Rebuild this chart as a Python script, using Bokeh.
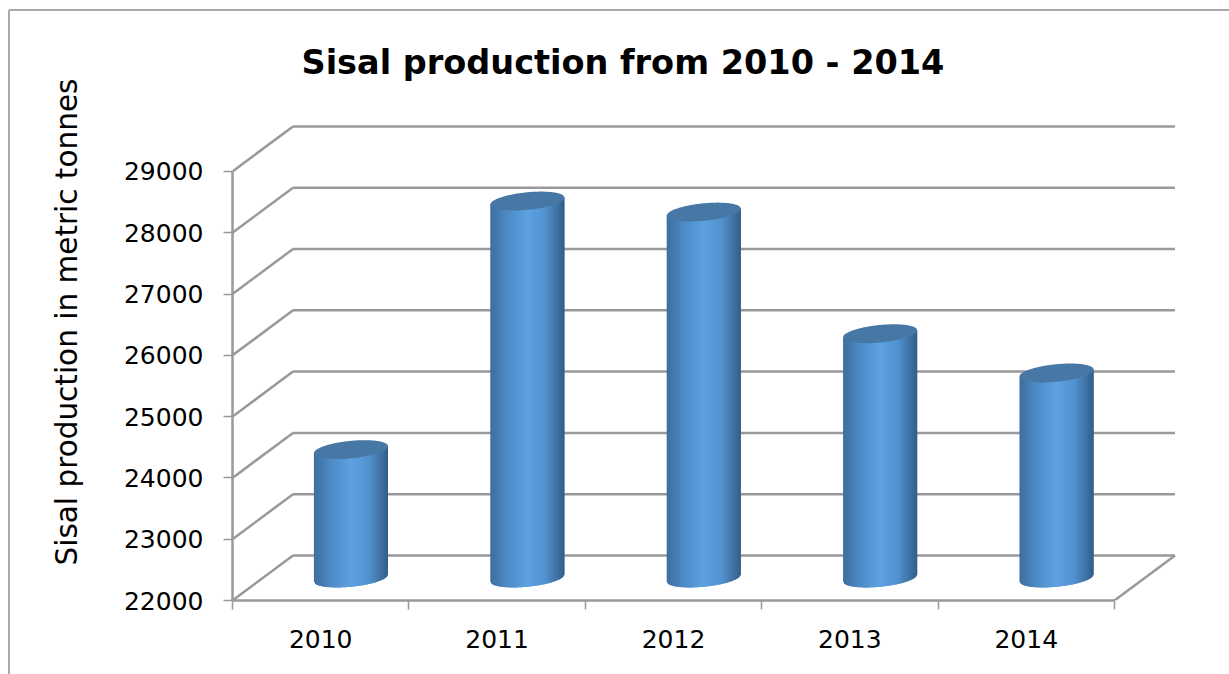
import math

from bokeh.embed import file_html
from bokeh.models import ColumnDataSource, FixedTicker, Title
from bokeh.plotting import figure
from bokeh.resources import INLINE

# Chart content
TITLE = "Sisal production from 2010 - 2014"
Y_TITLE = "Sisal production in metric tonnes"
years = ["2010", "2011", "2012", "2013", "2014"]
production = [24095, 28150, 27970, 25985, 25345]
y_ticks = [22000, 23000, 24000, 25000, 26000, 27000, 28000, 29000]

# Oblique projection of the 3-D box, in data units per depth
DEPTH_X = 0.343
DEPTH_Y = 734
# Cylinder cross-section, in data units
RADIUS_X = 0.21
CAP_MINOR = 143
CAP_TILT = 57

GRID = "#999999"
FRAME = "#a8a8a8"
FONT = "DejaVu Sans"
SHADE_STOPS = [
    (0.00, (62, 110, 158)),
    (0.22, (78, 138, 196)),
    (0.50, (94, 162, 226)),
    (0.74, (82, 146, 208)),
    (0.90, (64, 114, 164)),
    (1.00, (50, 94, 138)),
]
CAP_COLOR = "#4777a5"


def shade(t):
    """Colour across the cylinder's width, t from 0 (left) to 1 (right)."""
    for (t0, c0), (t1, c1) in zip(SHADE_STOPS, SHADE_STOPS[1:]):
        if t <= t1:
            f = (t - t0) / (t1 - t0)
            r, g, b = (round(a + (z - a) * f) for a, z in zip(c0, c1))
            return f"#{r:02x}{g:02x}{b:02x}"
    return "#325e8a"


def rim(u, sign):
    """Offset from an ellipse centre at u in [-1, 1]; sign picks upper or lower arc."""
    return CAP_TILT * u + sign * CAP_MINOR * math.sqrt(max(0.0, 1 - u * u))


x_end = 5 + DEPTH_X + 0.02
y_end = y_ticks[-1] + DEPTH_Y + 64

p = figure(
    width=1229, height=674,
    x_range=(0, x_end), y_range=(y_ticks[0], y_end),
    min_border_left=232, min_border_right=51,
    min_border_top=122, min_border_bottom=74,
    output_backend="svg", toolbar_location=None,
    outline_line_color=None, background_fill_color="white",
    border_fill_alpha=0,
)
p.grid.visible = False

# Thin frame along the page's top and left, running off the other two edges
p.styles = {
    "background-color": "white",
    "background-image": f"linear-gradient({FRAME},{FRAME}),linear-gradient({FRAME},{FRAME})",
    "background-size": "1220px 2px, 2px 664px",
    "background-position": "9px 9px, 8px 10px",
    "background-repeat": "no-repeat",
}

# Title
p.title.text = TITLE
p.title.text_font = FONT
p.title.text_font_size = "33.5px"
p.title.text_font_style = "bold"
p.title.text_color = "black"
p.title.align = "left"
p.title.offset = 69
p.title.standoff = 81

# Value axis
ya = p.yaxis[0]
ya.ticker = FixedTicker(ticks=y_ticks)
ya.bounds = (y_ticks[0], y_ticks[-1])
ya.major_label_overrides = {v: str(v) for v in y_ticks}
ya.major_label_text_font = FONT
ya.major_label_text_font_size = "25px"
ya.major_label_text_color = "black"
ya.major_label_standoff = 20
ya.major_tick_in = 0
ya.major_tick_out = 9
ya.minor_tick_in = 0
ya.minor_tick_out = 0
ya.axis_line_color = GRID
ya.axis_line_width = 2.5
ya.major_tick_line_color = GRID
ya.major_tick_line_width = 1.5

# Rotated value-axis title, sitting left of the tick labels
p.add_layout(Title(
    text=Y_TITLE, align="left", offset=35, standoff=74,
    text_font=FONT, text_font_size="29.5px", text_font_style="normal", text_color="black",
), "left")

# Year axis: labels sit between the tick marks
xa = p.xaxis[0]
centres = [i + 0.5 for i in range(len(years))]
xa.ticker = FixedTicker(ticks=centres, minor_ticks=list(range(len(years) + 1)))
xa.bounds = (0, len(years))
xa.major_label_overrides = dict(zip(centres, years))
xa.major_label_text_font = FONT
xa.major_label_text_font_size = "25px"
xa.major_label_text_color = "black"
xa.major_label_standoff = 20
xa.major_tick_in = 0
xa.major_tick_out = 0
xa.minor_tick_in = 0
xa.minor_tick_out = 9
xa.minor_tick_line_color = GRID
xa.minor_tick_line_width = 1.5
xa.axis_line_color = GRID
xa.axis_line_width = 2.5

# Back wall and side wall grid lines, plus the floor's right edge
x0s, y0s, x1s, y1s = [], [], [], []
for v in y_ticks:
    x0s += [0, DEPTH_X]
    y0s += [v, v + DEPTH_Y]
    x1s += [DEPTH_X, 5 + DEPTH_X]
    y1s += [v + DEPTH_Y, v + DEPTH_Y]
x0s.append(5)
y0s.append(y_ticks[0])
x1s.append(5 + DEPTH_X)
y1s.append(y_ticks[0] + DEPTH_Y)
p.segment(x0s, y0s, x1s, y1s, line_color=GRID, line_width=2.5)

# Cylinders stand mid-way through the box's depth; narrow vertical slices,
# each overlapping the next, give the horizontal shading
STRIPS = 74
base = y_ticks[0] + DEPTH_Y / 2
xs, ys, colors = [], [], []
cap_xs, cap_ys = [], []
for i, v in enumerate(production):
    cx = i + 0.5 + DEPTH_X / 2
    top = v + DEPTH_Y / 2
    for s in range(STRIPS):
        u0 = -1 + 2 * s / STRIPS
        u1 = min(1.0, -1 + 2 * (s + 2) / STRIPS)
        xs.append([cx + RADIUS_X * u0, cx + RADIUS_X * u1, cx + RADIUS_X * u1, cx + RADIUS_X * u0])
        ys.append([
            base + rim(u0, -1), base + rim(u1, -1),
            top + CAP_TILT * u1, top + CAP_TILT * u0,
        ])
        colors.append(shade((s + 0.5) / STRIPS))
    steps = [k / 60 for k in range(-60, 61)]
    cap_xs.append([cx + RADIUS_X * u for u in steps] + [cx + RADIUS_X * u for u in reversed(steps)])
    cap_ys.append([top + rim(u, 1) for u in steps] + [top + rim(u, -1) for u in reversed(steps)])

p.patches("xs", "ys", source=ColumnDataSource(dict(xs=xs, ys=ys, color=colors)),
          fill_color="color", line_color=None)
p.patches(cap_xs, cap_ys, fill_color=CAP_COLOR, line_color=None)

open("out.html", "w").write(file_html(p, INLINE))
